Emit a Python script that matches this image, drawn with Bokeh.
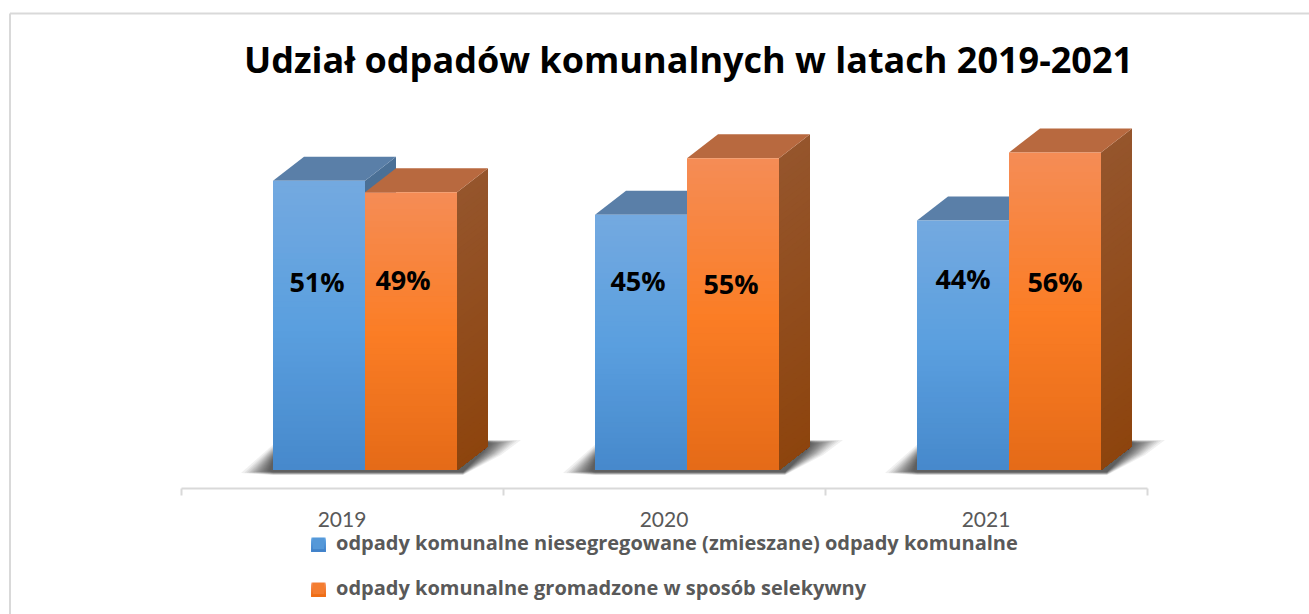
from bokeh.plotting import figure
from bokeh.models import ColumnDataSource, LinearAxis, FixedTicker, Legend, LegendItem
from bokeh.core.properties import value
from bokeh.embed import file_html
from bokeh.resources import INLINE

years = ["2019", "2020", "2021"]
mixed = [51, 45, 44]
selective = [49, 55, 56]
mixed_name = "odpady komunalne niesegregowane (zmieszane) odpady komunalne"
selective_name = "odpady komunalne gromadzone w sposób selekywny"
title = "Udział odpadów komunalnych w latach 2019-2021"

W, H = 1309, 614
PX_X = 322.0      # pixels per category
PX_Y = 5.67       # pixels per percent
X0_PAGE, Y0_PAGE = 180.5, 469.5


def dx(px):
    return px / PX_X


def dy(px):
    return px / PX_Y


def xp(page):
    return (page - X0_PAGE) / PX_X


def yp(page):
    return (Y0_PAGE - page) / PX_Y


p = figure(width=W, height=H, output_backend="svg", toolbar_location=None,
           x_range=(xp(0), xp(W)), y_range=(yp(H), yp(0)),
           min_border=0, min_border_left=0, min_border_right=0,
           min_border_top=0, min_border_bottom=0, outline_line_color=None,
           x_axis_type=None, y_axis_type=None)
p.grid.visible = False

p.segment(x0=[xp(9.5), xp(9.5)], y0=[yp(13), yp(13)], x1=[xp(9.5), xp(W + 2)], y1=[yp(H + 2), yp(13)],
          line_color="#d9d9d9", line_width=2)

BAR_W = 92 / PX_X
DEPTH_X, DEPTH_Y = dx(31), dy(24)
SLICES = 48


def mix(a, b, t):
    ca = [int(a[i:i + 2], 16) for i in (1, 3, 5)]
    cb = [int(b[i:i + 2], 16) for i in (1, 3, 5)]
    return "#%02x%02x%02x" % tuple(round(u + (v - u) * t) for u, v in zip(ca, cb))


def ramp(stops, t):
    for (t0, c0), (t1, c1) in zip(stops, stops[1:]):
        if t <= t1:
            return mix(c0, c1, (t - t0) / (t1 - t0))
    return stops[-1][1]


BLUE = [(0, "#73a9e0"), (0.5, "#5a9fdf"), (1, "#4688cb")]
ORANGE = [(0, "#f58c55"), (0.5, "#fb7d25"), (1, "#e46a17")]
BLUE_TOP, BLUE_SIDE = "#5a7fa8", "#4b7096"
ORANGE_TOP, ORANGE_SIDE = "#b8693f", "#95552c"
ORANGE_SIDE_BOTTOM = "#8d440d"
BLUE_SIDE_BOTTOM = "#3b6aa0"


def shadow(x_left, x_right):
    # soft shadow built from layered translucent shapes
    n = 18
    for i in range(n):
        t = (i / (n - 1)) ** 0.75
        xs = [x_left + dx(-32 + 28 * t), x_left + dx(2), x_right + dx(31), x_right + dx(64 - 32 * t),
              x_right + dx(44 - 18 * t), x_right + dx(6), x_left]
        ys = [dy(-3 + 2 * t), dy(27 - 12 * t), dy(30 - 2 * t), dy(30 - 4 * t),
              dy(15 + 3 * t), dy(-5 + 3 * t), dy(-5 + 3 * t)]
        p.patch(xs, ys, fill_color="#2a2a2a", fill_alpha=0.07, line_color=None)


def bar(x0, x1, v, stops, top, side, side_bottom):
    for i in range(SLICES):
        t = i / SLICES
        yt = v * (1 - t)
        c = mix(side, side_bottom, t)
        p.patch([x1, x1 + DEPTH_X, x1 + DEPTH_X, x1], [0, DEPTH_Y, yt + DEPTH_Y, yt], fill_color=c, line_color=None)
    p.patch([x0, x0 + DEPTH_X, x1 + DEPTH_X, x1], [v, v + DEPTH_Y, v + DEPTH_Y, v], fill_color=top, line_color=None)
    for i in range(SLICES):
        t = i / SLICES
        p.quad(left=x0, right=x1, bottom=0, top=v * (1 - t), fill_color=ramp(stops, t), line_color=None)


for c in range(len(years)):
    left = c + (273 - 181) / PX_X
    mid = left + BAR_W
    right = mid + BAR_W
    shadow(left, right)
    bar(left, mid, mixed[c], BLUE, BLUE_TOP, BLUE_SIDE, BLUE_SIDE_BOTTOM)
    bar(mid, right, selective[c], ORANGE, ORANGE_TOP, ORANGE_SIDE, ORANGE_SIDE_BOTTOM)

lab_x, lab_y, lab_t, lab_xo, lab_yo = [], [], [], [], []
nudge_x = [-2, -8, -3, -2, 0, 0]
nudge_y = [1, -1, 0, 3, -2, 1]
for c in range(len(years)):
    left = c + (273 - 181) / PX_X
    for k, v in enumerate((mixed[c], selective[c])):
        lab_x.append(left + BAR_W * (k + 0.5))
        lab_y.append(yp(279.5))
        lab_t.append(f"{v}%")
        lab_xo.append(nudge_x[c * 2 + k])
        lab_yo.append(nudge_y[c * 2 + k])
p.text(x="x", y="y", text="t", x_offset="xo", y_offset="yo",
       source=ColumnDataSource(dict(x=lab_x, y=lab_y, t=lab_t, xo=lab_xo, yo=lab_yo)),
       text_font=value("Open Sans"), text_font_style="bold", text_font_size="27px", text_color="#000000",
       text_align="center", text_baseline="middle")

p.text(x=[xp(688)], y=[yp(58.5)], text=[title], text_font=value("Open Sans"), text_font_style="bold",
       text_font_size="36px", text_color="#000000", text_align="center", text_baseline="middle")

axis = LinearAxis(fixed_location=yp(487.5),
                  ticker=FixedTicker(ticks=[i + 0.5 for i in range(len(years))],
                                     minor_ticks=list(range(len(years) + 1))),
                  major_label_overrides={i + 0.5: y for i, y in enumerate(years)},
                  major_tick_line_color=None, minor_tick_line_color="#d9d9d9", minor_tick_line_width=2,
                  minor_tick_in=0, minor_tick_out=7, axis_line_color="#d9d9d9", axis_line_width=2,
                  major_label_text_font="Lato", major_label_text_font_size="21px",
                  major_label_text_color="#595959", major_label_standoff=17,
                  bounds=(0, len(years)))
p.add_layout(axis, "below")

r1 = p.quad(left=[xp(-50)], right=[xp(-40)], bottom=[0], top=[1], fill_color="#5598d8", line_color=None)
r2 = p.quad(left=[xp(-50)], right=[xp(-40)], bottom=[0], top=[1], fill_color="#f47d30", line_color=None)
legend = Legend(items=[LegendItem(label=mixed_name, renderers=[r1]), LegendItem(label=selective_name, renderers=[r2])],
                location=(311, 13), orientation="vertical", background_fill_alpha=0, border_line_color=None,
                padding=0, margin=0, spacing=18, glyph_width=14, glyph_height=14, label_standoff=11,
                label_text_font="Open Sans", label_text_font_style="bold", label_text_font_size="20px",
                label_text_color="#595959", label_height=25)
p.add_layout(legend, "center")

# vertical gradient over the two legend swatches
for top_page, stops in ((537, [(0, "#5fa3e3"), (1, "#4080c8")]), (582, [(0, "#f58c55"), (1, "#ee6c12")])):
    for i in range(14):
        p.quad(left=[xp(311)], right=[xp(325)], top=[yp(top_page + i)], bottom=[yp(top_page + 14)],
               fill_color=ramp(stops, i / 13), line_color=None, level="overlay")

open("out.html", "w").write(file_html(p, INLINE).replace("<body>", '<body style="margin:0">'))
